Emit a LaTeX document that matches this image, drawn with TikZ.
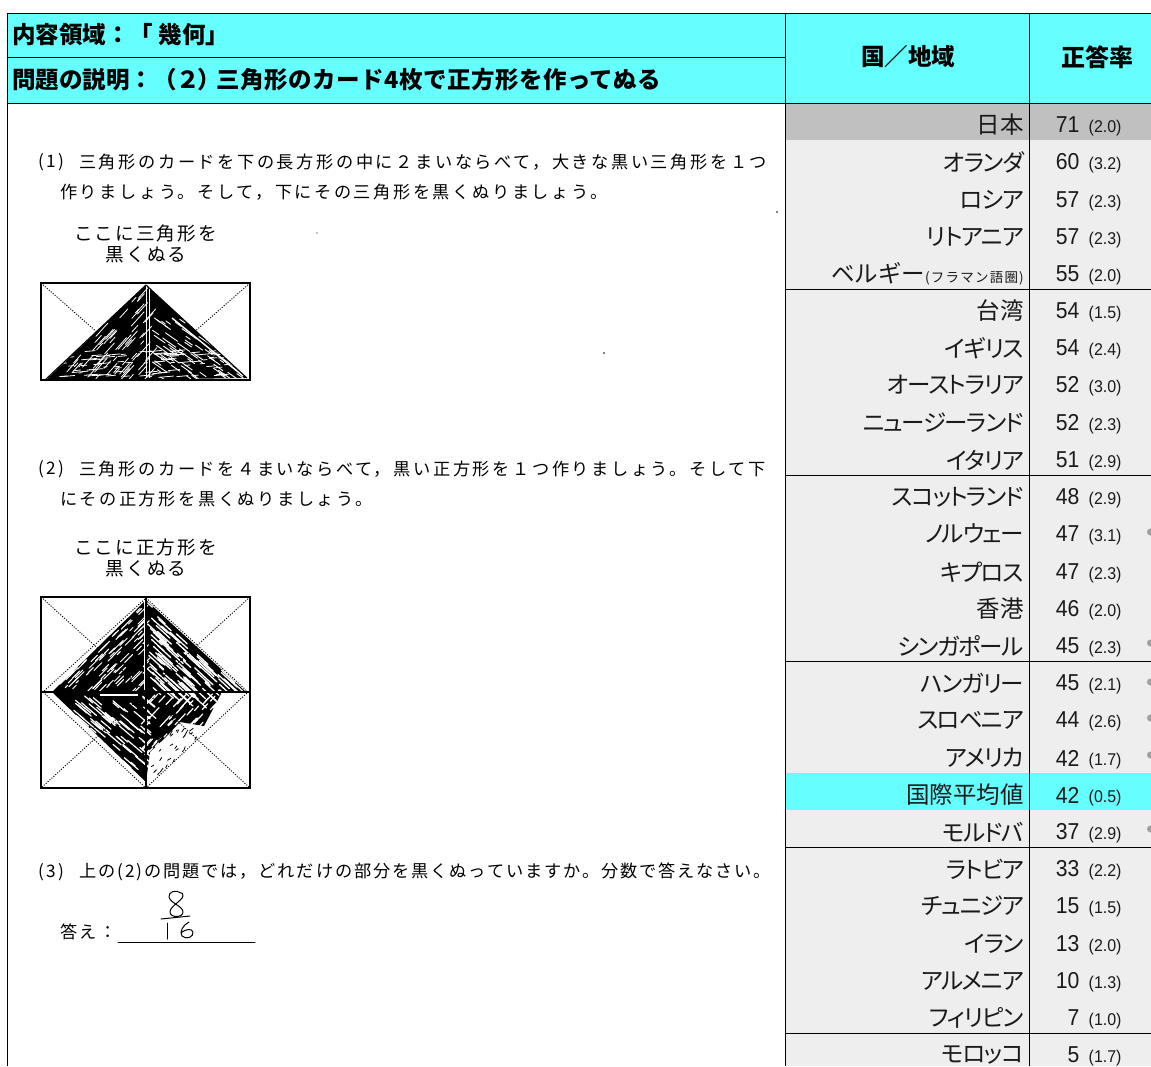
\documentclass[tikz,border=0pt]{standalone}
\usepackage{fontspec}
\setmainfont{Liberation Sans}
\newfontfamily\jp{Noto Sans CJK JP}
\newfontfamily\jpp[RawFeature=+palt,LetterSpace=-5.5]{Noto Sans CJK JP}
\newfontfamily\scan[LetterSpace=15]{Noto Sans CJK JP}
\newfontfamily\scanc[LetterSpace=11]{Noto Sans CJK JP}
\newfontfamily\scanb[LetterSpace=11]{Noto Sans CJK JP}
\newfontfamily\smalljp[LetterSpace=9]{Noto Sans CJK JP}
\newfontfamily\nums[FakeStretch=0.92]{Liberation Sans}
\newfontfamily\numse[FakeStretch=0.94]{Liberation Sans}
\definecolor{hdcyan}{HTML}{66FFFF}
\definecolor{rowgray}{HTML}{EEEEEE}
\definecolor{jpgray}{HTML}{C0C0C0}
\definecolor{dotgray}{HTML}{A0A0A0}
\definecolor{ink}{HTML}{1A1A1A}
\tikzset{
  hd/.style={font=\jp\bfseries\fontsize{23.5}{26}\selectfont,inner sep=0,text=black},
  qtext/.style={anchor=west,inner sep=0,font=\scan\fontsize{17.2}{20}\selectfont,text=black},
  qtextc/.style={anchor=west,inner sep=0,font=\scanc\fontsize{17.2}{20}\selectfont,text=black},
  lab/.style={inner sep=0,font=\scanb\fontsize{18.6}{20}\selectfont,text=black},
  cname/.style={anchor=east,inner sep=0,font=\jpp\fontsize{23.5}{26}\selectfont,text=ink},
  cnum/.style={anchor=east,inner sep=0,font=\nums\fontsize{23}{26}\selectfont,text=ink},
  cse/.style={anchor=west,inner sep=0,font=\numse\fontsize{17}{20}\selectfont,text=ink},
  rule/.style={black,line width=1pt},
  dotx/.style={black,line width=.9pt,dash pattern=on 1.1pt off 1.5pt},
  hand/.style={black,line width=1pt,line cap=round,line join=round},
  scratch/.style={white,line cap=round}
}
\newcommand{\rowx}[5]{%
  \node[cname] (name#1) at (1024,#2) {#3};
  \node[cnum] (num#1) at (1079.5,#2) {#4};
  \node[cse] (se#1) at (1088.5,#2+3) {(#5)};
}
\newcommand{\strokes}[8]{% count, xmin, xmax, ymin, ymax, dx, dy, width
  \foreach \k in {1,...,#1}{%
    \pgfmathsetmacro{\xa}{#2+rnd*(#3-#2)}%
    \pgfmathsetmacro{\ya}{#4+rnd*(#5-#4)}%
    \pgfmathsetmacro{\ln}{.15+.6*rnd}%
    \draw[scratch,line width=#8] (\xa,\ya) -- ++({#6*\ln},{#7*\ln});
  }%
}
\begin{document}
\begin{tikzpicture}[x=1pt,y=-1pt]
\useasboundingbox (0,0) rectangle (1151,1066);
\pgfmathsetseed{4242}
% backgrounds
\fill[white] (0,0) rectangle (1151,1066);
\fill[hdcyan] (7.5,13) rectangle (1151,104);
\fill[rowgray] (785,104) rectangle (1151,1066);
\fill[jpgray] (785,104) rectangle (1151,140);
\fill[hdcyan] (785,773) rectangle (1151,810);
% rules
\coordinate (tl) at (7.5,13); \coordinate (tr) at (1151,13);
\coordinate (bl) at (7.5,1066);
\draw[rule] (tl) -- (tr);
\draw[rule] (tl) -- (bl);
\draw[rule] (7.5,57.5) -- (785,57.5);
\draw[rule] (7.5,103.5) -- (1151,103.5);
\draw[rule] (785,13) -- (785,1066);
\draw[rule] (1029.5,13) -- (1029.5,1066);
\foreach \yy in {289.5,475.5,661.5,847.5,1033.5}{\draw[rule] (785,\yy) -- (1151,\yy);}
% header
\node[hd,anchor=west] (h1) at (12,35) {内容領域：「 幾何」};
\node[hd,anchor=west] (h2) at (12,80) {問題の説明：（２\kern-3pt）\kern-4pt{\addfontfeature{LetterSpace=2}三角形のカード4枚で正方形を作ってぬる}};
\node[hd] (h3) at (908,57) {国／地域};
\node[hd,font=\jp\bfseries\fontsize{24}{26}\selectfont] (h4) at (1097,57) {正答率};
% table
\rowx{a}{125}{{\jp 日本}}{71}{2.0}
\rowx{b}{162}{オランダ}{60}{3.2}
\rowx{c}{200}{ロシア}{57}{2.3}
\rowx{d}{237}{リトアニア}{57}{2.3}
\rowx{e}{274}{{\jp ベルギー}{\smalljp\fontsize{13.5}{16}\selectfont (フラマン語圏)}}{55}{2.0}
\rowx{f}{311}{{\jp 台湾}}{54}{1.5}
\rowx{g}{348}{イギリス}{54}{2.4}
\rowx{h}{385}{オーストラリア}{52}{3.0}
\rowx{i}{423}{ニュージーランド}{52}{2.3}
\rowx{j}{460}{イタリア}{51}{2.9}
\rowx{k}{497}{スコットランド}{48}{2.9}
\rowx{l}{534}{ノルウェー}{47}{3.1}
\rowx{m}{572}{キプロス}{47}{2.3}
\rowx{n}{609}{{\jp 香港}}{46}{2.0}
\rowx{o}{646}{シンガポール}{45}{2.3}
\rowx{p}{683}{ハンガリー}{45}{2.1}
\rowx{q}{720}{スロベニア}{44}{2.6}
\rowx{r}{758}{アメリカ}{42}{1.7}
\rowx{s}{795}{{\jp 国際平均値}}{42}{0.5}
\rowx{t}{832}{モルドバ}{37}{2.9}
\rowx{u}{869}{ラトビア}{33}{2.2}
\rowx{v}{906}{チュニジア}{15}{1.5}
\rowx{w}{944}{イラン}{13}{2.0}
\rowx{x}{981}{アルメニア}{10}{1.3}
\rowx{y}{1018}{フィリピン}{7}{1.0}
\rowx{z}{1055}{モロッコ}{5}{1.7}
\foreach \yy in {532,643,682,718,755,829}{\fill[dotgray] (1150.5,\yy) circle (3.5);}
% question text
\node[qtext] (q1n) at (38,162) {(1)};
\node[qtext] (q1a) at (79,162) {三角形のカードを下の長方形の中に２まいならべて，大きな黒い三角形を１つ};
\node[qtext] (q1b) at (60,192) {作りましょう。そして，下にその三角形を黒くぬりましょう。};
\node[lab] (l1a) at (145.5,233) {ここに三角形を};
\node[lab] (l1b) at (146,255) {黒くぬる};
\node[qtext] (q2n) at (38,469) {(2)};
\node[qtext] (q2a) at (79,469) {三角形のカードを４まいならべて，黒い正方形を１つ作りましょう。そして下};
\node[qtext] (q2b) at (60,499) {にその正方形を黒くぬりましょう。};
\node[lab] (l2a) at (145.5,547) {ここに正方形を};
\node[lab] (l2b) at (146,569) {黒くぬる};
\node[qtext] (q3n) at (38,872) {(3)};
\node[qtextc] (q3a) at (79,872) {上の(2)の問題では，どれだけの部分を黒くぬっていますか。分数で答えなさい。};
\node[qtext] (q3b) at (60,932) {答え：};
% specks
\fill (317,233) circle (.6); \fill (777,212) circle (.8); \fill (604,353) circle (.8);
% figure 1
\fill[black] (146,285) -- (247,378) -- (45,381) -- cycle;
\begin{scope}
 \clip (146,285) -- (247,378) -- (45,381) -- cycle;
 \strokes{110}{55}{146}{298}{380}{18}{-20}{.8pt}
 \strokes{90}{150}{240}{315}{380}{20}{14}{.9pt}
 \strokes{90}{55}{240}{350}{378}{22}{-2}{.8pt}
 \draw[white,line width=1pt] (146,285) -- (146,378);
 \draw[white,line width=.8pt] (149,287) -- (149,378);
 \draw[white,line width=1.4pt] (172,318) -- (243,376);
\end{scope}
\draw[dotx] (41,283) -- (98,333);
\draw[dotx] (250,283) -- (193,333);
\draw[black,line width=1.1pt] (146,285) -- (45,380);
\draw[black,line width=1pt] (146,285) -- (247,378);
\draw[black,line width=1.2pt] (41,283) rectangle (250,380);
% figure 2
\fill[black] (146,600) -- (246,692) -- (222,692) -- (204,726) -- (180,722) -- (165,738) -- (150,752) -- (146,782) -- (52,692) -- cycle;
\begin{scope}
 \clip (146,598) -- (248,692) -- (146,788) -- (43,692) -- cycle;
 \strokes{170}{55}{146}{612}{692}{14}{-14}{1pt}
 \strokes{170}{146}{240}{602}{692}{26}{24}{1.3pt}
 \strokes{120}{55}{146}{694}{782}{20}{17}{1.2pt}
 \strokes{80}{146}{225}{694}{760}{-14}{15}{1.2pt}
 \foreach \k in {1,...,45}{
   \pgfmathsetmacro{\xa}{150+rnd*45}\pgfmathsetmacro{\ya}{715+rnd*60}
   \draw[black,line width=.8pt] (\xa,\ya) -- ++(rnd*3+1,-rnd*4-1);
 }
 \draw[white,line width=1pt] (144,600) -- (144,690);
 \draw[white,line width=1.2pt] (100,695) -- (138,695);
\end{scope}
\draw[dotx] (41,597) -- (146,692) -- (250,788);
\draw[dotx] (250,597) -- (146,692) -- (41,788);
\draw[dotx] (146,598) -- (248,692) -- (146,788) -- (43,692) -- cycle;
\draw[black,line width=1.1pt] (146,597) -- (146,788);
\draw[black,line width=1.3pt] (41,692) -- (250,692);
\draw[black,line width=1.3pt] (41,597) rectangle (250,788);
% handwriting
\draw[hand] (118,942.5) -- (255,942.5);
\draw[hand] (181,893) .. controls (176,889) and (168,892) .. (169,897) .. controls (170,903) and (183,906) .. (183,912) .. controls (183,918) and (170,918) .. (170,912) .. controls (170,906) and (182,901) .. (183,896) .. controls (183,893) and (182,893) .. (181,893);
\draw[hand] (161,919) -- (190,916);
\draw[hand] (167,923) -- (167,939);
\draw[hand] (189,922) .. controls (183,925) and (179,932) .. (182,936) .. controls (186,940) and (194,937) .. (193,932) .. controls (192,928) and (185,929) .. (181,933);
\end{tikzpicture}
\end{document}
